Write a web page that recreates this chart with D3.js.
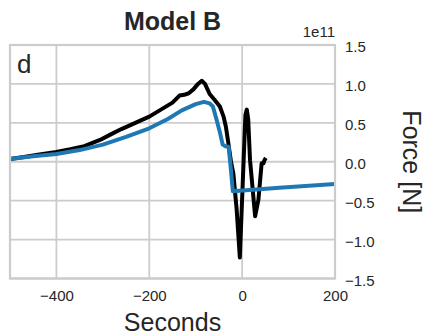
<!DOCTYPE html>
<html>
<head>
<meta charset="utf-8">
<script src="https://cdn.jsdelivr.net/npm/d3@7"></script>
<style>
  body { margin: 0; background: #fff; }
  svg text { font-family: "Liberation Sans", Arial, sans-serif; fill: #262626; }
</style>
</head>
<body>
<div id="chart"></div>
<script>
// Werte (Force in 1e11 N)
const blackTime = [-500, -470, -440, -400, -370, -340, -306, -285, -260, -230, -200, -175, -150, -135, -125, -115, -105, -95, -87, -80, -70, -60, -48, -40, -35, -30, -24, -19, -12, -5, 7, 10, 13, 17, 28, 35, 42, 46, 48, 51];
const blackForce = [0.035, 0.06, 0.09, 0.125, 0.16, 0.2, 0.28, 0.345, 0.42, 0.5, 0.58, 0.67, 0.76, 0.85, 0.86, 0.88, 0.93, 1.0, 1.04, 1.0, 0.87, 0.8, 0.71, 0.58, 0.45, 0.25, 0.0, -0.15, -0.6, -1.23, 0.6, 0.67, 0.55, 0.02, -0.7, -0.49, -0.02, -0.02, 0.02, 0.05];

const blueTime = [-500, -450, -400, -350, -300, -250, -200, -160, -130, -100, -82, -70, -63, -55, -48, -42, -36, -29, -25, -20, 80, 200];
const blueForce = [0.035, 0.07, 0.1, 0.15, 0.22, 0.32, 0.43, 0.55, 0.66, 0.74, 0.77, 0.75, 0.71, 0.54, 0.38, 0.22, 0.2, 0.19, -0.05, -0.38, -0.335, -0.285];

const xTicks = [-400, -200, 0, 200];
const yTicks = [-1.5, -1.0, -0.5, 0.0, 0.5, 1.0, 1.5];

const W = 427, H = 335;
const margin = { top: 45, right: 92, bottom: 56.5, left: 10 };
const width = W - margin.left - margin.right;
const height = H - margin.top - margin.bottom;
const gridColor = "#cccccc";

const svg = d3.select("#chart").append("svg")
    .attr("width", W)
    .attr("height", H);

const g = svg.append("g")
    .attr("transform", `translate(${margin.left},${margin.top})`);

const x = d3.scaleLinear().domain([-500, 200]).range([0, width]);
const y = d3.scaleLinear().domain([-1.5, 1.5]).range([height, 0]);

// Gitter
g.selectAll(".vgrid").data(xTicks).enter().append("line")
    .attr("x1", d => x(d)).attr("x2", d => x(d))
    .attr("y1", 0).attr("y2", height)
    .attr("stroke", gridColor).attr("stroke-width", 1.8);

g.selectAll(".hgrid").data(yTicks).enter().append("line")
    .attr("x1", 0).attr("x2", width)
    .attr("y1", d => y(d)).attr("y2", d => y(d))
    .attr("stroke", gridColor).attr("stroke-width", 1.8);

// Linien
const line = d3.line().x(d => x(d[0])).y(d => y(d[1]));

g.append("path")
    .datum(d3.zip(blackTime, blackForce))
    .attr("d", line)
    .attr("fill", "none")
    .attr("stroke", "#000")
    .attr("stroke-width", 4)
    .attr("stroke-linejoin", "round");

g.append("path")
    .datum(d3.zip(blueTime, blueForce))
    .attr("d", line)
    .attr("fill", "none")
    .attr("stroke", "#1f77b4")
    .attr("stroke-width", 4)
    .attr("stroke-linejoin", "round");

// Rahmen
g.append("rect")
    .attr("width", width).attr("height", height)
    .attr("fill", "none")
    .attr("stroke", gridColor).attr("stroke-width", 2.2);

// X-Achse
const xAxis = g.append("g")
    .attr("transform", `translate(0,${height})`)
    .call(d3.axisBottom(x).tickValues(xTicks).tickSize(0).tickPadding(12)
        .tickFormat(d => d < 0 ? "\u2212" + Math.abs(d) : d));
xAxis.select(".domain").remove();
xAxis.selectAll("text").style("font-size", "15px")
    .attr("font-family", "Liberation Sans, Arial, sans-serif").attr("fill", "#262626");

// Y-Achse rechts
const yAxis = g.append("g")
    .attr("transform", `translate(${width},0)`)
    .call(d3.axisRight(y).tickValues(yTicks).tickSize(0).tickPadding(10)
        .tickFormat(d => (d < 0 ? "\u2212" : "") + d3.format(".1f")(Math.abs(d))));
yAxis.select(".domain").remove();
yAxis.selectAll("text").style("font-size", "15px").attr("dy", "0.45em")
    .attr("font-family", "Liberation Sans, Arial, sans-serif").attr("fill", "#262626");

// Offset-Text
g.append("text")
    .attr("x", width).attr("y", -8)
    .attr("text-anchor", "end")
    .style("font-size", "15px")
    .text("1e11");

// Titel
svg.append("text")
    .attr("x", margin.left + width / 2).attr("y", 30)
    .attr("text-anchor", "middle")
    .style("font-size", "25px")
    .style("font-weight", "bold")
    .text("Model B");

// Panel-Buchstabe
g.append("text")
    .attr("x", 7).attr("y", 28)
    .style("font-size", "26px")
    .text("d");

// Achsenbeschriftungen
svg.append("text")
    .attr("x", margin.left + width / 2).attr("y", 331)
    .attr("text-anchor", "middle")
    .style("font-size", "25px")
    .text("Seconds");

svg.append("text")
    .attr("transform", `translate(403,${margin.top + height / 2}) rotate(90)`)
    .attr("text-anchor", "middle")
    .style("font-size", "25px")
    .text("Force [N]");
</script>
</body>
</html>
